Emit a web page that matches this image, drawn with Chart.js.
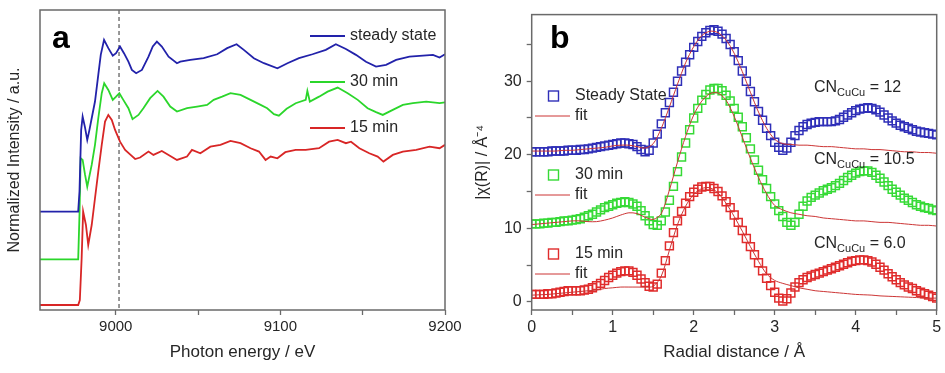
<!DOCTYPE html>
<html>
<head>
<meta charset="utf-8">
<script src="https://cdn.jsdelivr.net/npm/chart.js@4.4.0/dist/chart.umd.min.js"></script>
<style>
  html, body { margin: 0; padding: 0; background: #fff; }
  #wrap { position: relative; width: 945px; height: 373px; }
  canvas { position: absolute; top: 0; }
  #chartA { left: 0; }
  #chartB { left: 470px; }
</style>
</head>
<body>
<div id="wrap">
  <canvas id="chartA" width="470" height="373"></canvas>
  <canvas id="chartB" width="475" height="373"></canvas>
</div>
<script>
// ---- panel a : XANES, stacked as plotted (red baseline = 0, edge jump ~ 1)
const E_STEADY = [8954, 8977.2, 8978.0, 8979.0, 8979.9, 8981.3, 8982.7, 8984.0, 8985.4, 8987.4, 8989.4, 8990.9, 8992.9, 8995.5, 8998.2, 9000.2, 9002.6, 9005.0, 9007.7, 9009.8, 9012.4, 9015.9, 9019.9, 9022.5, 9025.0, 9028.0, 9032.1, 9037.2, 9039.2, 9045.3, 9053.4, 9061.6, 9067.7, 9073.4, 9077.8, 9083.9, 9090.0, 9098.2, 9104.3, 9111.3, 9119.5, 9127.6, 9133.7, 9139.8, 9145.9, 9152.0, 9158.1, 9164.2, 9170.3, 9178.4, 9186.6, 9192.7, 9196.7, 9200];
const MU_STEADY = [0.614, 0.614, 0.75, 1.15, 1.239, 1.17, 1.086, 1.15, 1.228, 1.338, 1.513, 1.645, 1.743, 1.689, 1.64, 1.656, 1.70, 1.656, 1.60, 1.546, 1.524, 1.546, 1.633, 1.70, 1.732, 1.70, 1.633, 1.59, 1.60, 1.612, 1.623, 1.649, 1.689, 1.715, 1.678, 1.623, 1.59, 1.557, 1.59, 1.623, 1.649, 1.678, 1.715, 1.684, 1.645, 1.60, 1.568, 1.579, 1.612, 1.633, 1.64, 1.645, 1.627, 1.649];

const E_30 = [8954, 8977.2, 8978.0, 8978.7, 8979.9, 8981.3, 8982.7, 8985.4, 8987.4, 8989.4, 8991.5, 8993.0, 8995.5, 8998.2, 9000.2, 9002.2, 9004.6, 9007.7, 9010.2, 9013.8, 9016.8, 9020.9, 9025.4, 9029.0, 9033.1, 9037.2, 9043.3, 9049.4, 9055.5, 9059.5, 9064.6, 9069.7, 9075.8, 9081.9, 9088.0, 9092.0, 9096.1, 9099.1, 9103.8, 9109.3, 9115.4, 9116.4, 9117.9, 9123.5, 9128.7, 9134.8, 9140.9, 9147.0, 9153.0, 9158.1, 9162.2, 9168.3, 9174.4, 9180.5, 9188.6, 9196.7, 9200];
const MU_30 = [0.30, 0.30, 0.60, 0.965, 0.954, 0.86, 0.778, 0.921, 1.053, 1.228, 1.393, 1.458, 1.414, 1.349, 1.37, 1.393, 1.349, 1.294, 1.222, 1.25, 1.294, 1.36, 1.408, 1.37, 1.305, 1.272, 1.294, 1.305, 1.316, 1.349, 1.37, 1.393, 1.382, 1.349, 1.316, 1.294, 1.255, 1.245, 1.29, 1.327, 1.349, 1.408, 1.338, 1.37, 1.403, 1.43, 1.393, 1.349, 1.294, 1.268, 1.25, 1.283, 1.316, 1.327, 1.338, 1.327, 1.333];

const E_15 = [8954, 8977.2, 8978.2, 8979.3, 8980.2, 8981.9, 8983.3, 8985.4, 8987.4, 8989.4, 8991.5, 8993.5, 8995.5, 8997.6, 8999.6, 9002.6, 9005.7, 9008.7, 9011.8, 9014.8, 9019.9, 9022.9, 9028.0, 9032.1, 9037.2, 9043.3, 9046.3, 9051.4, 9057.5, 9063.6, 9069.7, 9075.8, 9081.9, 9087.0, 9091.0, 9094.1, 9098.2, 9103.0, 9109.3, 9115.4, 9123.5, 9129.6, 9134.8, 9139.8, 9142.9, 9148.0, 9154.0, 9159.1, 9162.6, 9168.3, 9174.4, 9182.5, 9190.6, 9196.7, 9200];
const MU_15 = [0.0, 0.0, 0.033, 0.307, 0.614, 0.526, 0.395, 0.526, 0.702, 0.877, 1.053, 1.206, 1.25, 1.217, 1.151, 1.074, 1.02, 0.99, 0.96, 0.97, 1.009, 0.987, 1.013, 0.987, 0.954, 0.976, 1.02, 0.998, 1.041, 1.053, 1.079, 1.064, 1.031, 1.009, 0.954, 0.976, 0.965, 1.005, 1.02, 1.02, 1.031, 1.074, 1.086, 1.064, 1.074, 1.031, 0.998, 0.976, 0.943, 0.987, 1.009, 1.02, 1.041, 1.031, 1.053];

const LABELS_A = ["steady state", "30 min", "15 min"];
const TICKS_A = [9000, 9050, 9100, 9150, 9200];
const EDGE_MARK = 9002;

// ---- panel b : Fourier transformed EXAFS
const R_DATA = [0, 0.05, 0.1, 0.15, 0.2, 0.25, 0.3, 0.35, 0.4, 0.45, 0.5, 0.55, 0.6, 0.65, 0.7, 0.75, 0.8, 0.85, 0.9, 0.95,
  1, 1.05, 1.1, 1.15, 1.2, 1.25, 1.3, 1.35, 1.4, 1.45, 1.5, 1.55, 1.6, 1.65, 1.7, 1.75, 1.8, 1.85, 1.9, 1.95,
  2, 2.05, 2.1, 2.15, 2.2, 2.25, 2.3, 2.35, 2.4, 2.45, 2.5, 2.55, 2.6, 2.65, 2.7, 2.75, 2.8, 2.85, 2.9, 2.95,
  3, 3.05, 3.1, 3.15, 3.2, 3.25, 3.3, 3.35, 3.4, 3.45, 3.5, 3.55, 3.6, 3.65, 3.7, 3.75, 3.8, 3.85, 3.9, 3.95,
  4, 4.05, 4.1, 4.15, 4.2, 4.25, 4.3, 4.35, 4.4, 4.45, 4.5, 4.55, 4.6, 4.65, 4.7, 4.75, 4.8, 4.85, 4.9, 4.95, 5];

const CHI_STEADY = [20.4, 20.4, 20.4, 20.4, 20.4, 20.5, 20.5, 20.5, 20.5, 20.6, 20.6, 20.6, 20.7, 20.7, 20.8, 20.9, 21.0, 21.1, 21.2, 21.3,
  21.4, 21.5, 21.6, 21.6, 21.5, 21.4, 21.1, 20.7, 20.4, 20.6, 21.6, 22.8, 24.2, 25.7, 27.1, 28.5, 30.0, 31.4, 32.6, 33.6,
  34.6, 35.4, 36.1, 36.6, 36.9, 37.0, 36.8, 36.4, 35.8, 35.0, 34.0, 32.8, 31.4, 30.0, 28.6, 27.2, 25.9, 24.7, 23.6, 22.6,
  21.7, 21.0, 20.6, 20.9, 21.7, 22.6, 23.3, 23.8, 24.1, 24.3, 24.4, 24.5, 24.5, 24.5, 24.5, 24.6, 24.8, 25.1, 25.4, 25.7,
  26.0, 26.2, 26.3, 26.4, 26.3, 26.1, 25.8, 25.4, 25.0, 24.6, 24.3, 24.0, 23.8, 23.6, 23.4, 23.2, 23.1, 23.0, 22.9, 22.8, 22.7];

const CHI_30 = [10.6, 10.6, 10.6, 10.7, 10.7, 10.8, 10.8, 10.9, 11.0, 11.0, 11.1, 11.2, 11.3, 11.5, 11.7, 11.9, 12.2, 12.5, 12.8, 13.0,
  13.2, 13.4, 13.5, 13.6, 13.5, 13.3, 13.0, 12.4, 11.7, 11.0, 10.5, 10.4, 11.0, 12.2, 13.8, 15.7, 17.7, 19.7, 21.6, 23.4,
  25.0, 26.3, 27.4, 28.2, 28.8, 29.0, 29.0, 28.7, 28.1, 27.3, 26.3, 25.1, 23.8, 22.3, 20.8, 19.3, 17.9, 16.6, 15.4, 14.3,
  13.3, 12.4, 11.6, 10.8, 10.4, 10.8, 11.9, 13.0, 13.7, 14.2, 14.5, 14.8, 15.1, 15.3, 15.5, 15.8, 16.1, 16.5, 16.9, 17.2,
  17.5, 17.7, 17.8, 17.8, 17.6, 17.2, 16.8, 16.3, 15.8, 15.3, 14.9, 14.5, 14.1, 13.8, 13.5, 13.2, 13.0, 12.8, 12.7, 12.5, 12.4];

const CHI_15 = [1.0, 1.0, 1.0, 1.0, 1.1, 1.1, 1.2, 1.3, 1.4, 1.5, 1.5, 1.5, 1.5, 1.6, 1.7, 1.9, 2.2, 2.5, 2.9, 3.3,
  3.6, 3.9, 4.1, 4.2, 4.2, 4.0, 3.6, 3.1, 2.6, 2.1, 2.0, 2.4, 3.9, 5.6, 7.6, 9.4, 11.0, 12.3, 13.4, 14.3,
  14.9, 15.3, 15.6, 15.7, 15.7, 15.4, 15.0, 14.4, 13.6, 12.8, 11.8, 10.8, 9.7, 8.6, 7.5, 6.4, 5.3, 4.2, 3.2, 2.2,
  1.3, 0.5, 0.1, 0.4, 1.2, 2.0, 2.6, 3.0, 3.3, 3.5, 3.7, 3.9, 4.1, 4.3, 4.5, 4.7, 4.9, 5.1, 5.3, 5.5,
  5.6, 5.7, 5.7, 5.6, 5.4, 5.1, 4.7, 4.3, 3.8, 3.4, 3.0, 2.6, 2.3, 2.0, 1.8, 1.5, 1.3, 1.1, 0.9, 0.7, 0.5];

const R_FIT = [0, 0.1, 0.2, 0.3, 0.4, 0.5, 0.6, 0.7, 0.8, 0.9, 1, 1.1, 1.2, 1.3, 1.4, 1.5, 1.6, 1.7, 1.8, 1.9,
  2, 2.1, 2.2, 2.3, 2.4, 2.5, 2.6, 2.7, 2.8, 2.9, 3, 3.1, 3.2, 3.3, 3.4, 3.5, 3.6, 3.7, 3.8, 3.9,
  4, 4.1, 4.2, 4.3, 4.4, 4.5, 4.6, 4.7, 4.8, 4.9, 5];

const FIT_STEADY = [20.5, 20.5, 20.5, 20.5, 20.6, 20.6, 20.7, 20.8, 20.9, 21.0, 21.2, 21.3, 21.3, 21.1, 20.9, 21.5, 23.6, 26.5, 29.6, 32.5,
  34.7, 36.2, 36.8, 36.6, 35.6, 33.8, 31.3, 28.5, 25.8, 23.6, 22.1, 21.5, 21.4, 21.3, 21.3, 21.2, 21.1, 21.1, 21.0, 20.9,
  20.8, 20.8, 20.7, 20.7, 20.6, 20.5, 20.4, 20.4, 20.3, 20.3, 20.2];
const FIT_30 = [10.5, 10.6, 10.7, 10.8, 10.9, 11.0, 11.0, 10.9, 10.9, 11.1, 11.4, 11.8, 12.1, 12.0, 11.5, 11.2, 12.0, 15.2, 19.0, 22.5,
  25.4, 27.3, 28.3, 28.4, 27.4, 25.2, 22.4, 19.5, 16.9, 14.7, 13.1, 12.5, 12.1, 11.9, 11.7, 11.6, 11.4, 11.3, 11.2, 11.1,
  11.0, 11.0, 10.9, 10.8, 10.8, 10.7, 10.6, 10.5, 10.4, 10.4, 10.3];
const FIT_15 = [0.9, 0.95, 1.0, 1.1, 1.2, 1.3, 1.4, 1.5, 1.6, 1.8, 1.9, 2.0, 2.0, 2.0, 2.0, 2.1, 3.5, 7.0, 10.5, 13.0,
  14.6, 15.4, 15.5, 14.8, 13.4, 11.6, 9.6, 7.5, 5.5, 3.8, 2.9, 2.5, 2.2, 1.9, 1.7, 1.5, 1.4, 1.3, 1.2, 1.1,
  1.0, 0.95, 0.9, 0.8, 0.75, 0.7, 0.65, 0.6, 0.55, 0.5, 0.5];

const LABELS_B = ["Steady State", "30 min", "15 min"];
const CN_VALUES = ["12", "10.5", "6.0"];
const TICKS_BX = [0, 0.5, 1, 1.5, 2, 2.5, 3, 3.5, 4, 4.5, 5];
const TICKS_BY = [0, 5, 10, 15, 20, 25, 30, 35];

const COLORS = {
  axis:  "#6a6a6a",
  text:  "#262626",
  blue:  "#2222aa",
  green: "#2bd62b",
  red:   "#d82626",
  sqBlue:  "#2f2fb8",
  sqGreen: "#36da36",
  sqRed:   "#e02c2c",
  fit:   "#cc3535",
};
const FONT = "'Liberation Sans', Arial, sans-serif";

Chart.defaults.font.family = FONT;
Chart.defaults.color = COLORS.text;

const pts = (xs, ys) => xs.map((x, i) => ({ x, y: ys[i] }));

const frame = {
  id: "frame",
  afterDatasetsDraw(chart) {
    const { ctx, chartArea: a } = chart;
    ctx.save();
    ctx.strokeStyle = COLORS.axis;
    ctx.lineWidth = 1.5;
    ctx.strokeRect(a.left, a.top, a.right - a.left, a.bottom - a.top);
    ctx.restore();
  }
};

const decorA = {
  id: "decorA",
  beforeDatasetsDraw(chart) {
    const { ctx, chartArea: a } = chart;
    const x = chart.scales.x.getPixelForValue(EDGE_MARK);
    ctx.save();
    ctx.strokeStyle = "#333";
    ctx.lineWidth = 1;
    ctx.setLineDash([4, 3]);
    ctx.beginPath(); ctx.moveTo(x, a.top); ctx.lineTo(x, a.bottom); ctx.stroke();
    ctx.restore();
  },
  afterDraw(chart) {
    const ctx = chart.ctx;
    const cols = [COLORS.blue, COLORS.green, COLORS.red];
    ctx.save();
    ctx.font = "16px " + FONT;
    ctx.textBaseline = "middle";
    LABELS_A.forEach((label, i) => {
      const y = 36 + i * 46;
      ctx.strokeStyle = cols[i];
      ctx.lineWidth = 2;
      ctx.beginPath(); ctx.moveTo(310, y); ctx.lineTo(345, y); ctx.stroke();
      ctx.fillStyle = COLORS.text;
      ctx.fillText(label, 350, y);
    });
    ctx.font = "bold 32px " + FONT;
    ctx.textBaseline = "alphabetic";
    ctx.fillStyle = "#000";
    ctx.fillText("a", 52, 48);
    ctx.restore();
  }
};

const decorB = {
  id: "decorB",
  afterDraw(chart) {
    const ctx = chart.ctx;
    const cols = [COLORS.sqBlue, COLORS.sqGreen, COLORS.sqRed];
    ctx.save();
    ctx.font = "16px " + FONT;
    ctx.textBaseline = "middle";
    LABELS_B.forEach((label, i) => {
      const y = 96 + i * 79;
      ctx.strokeStyle = cols[i];
      ctx.lineWidth = 1.4;
      ctx.strokeRect(78.5, y - 5, 10, 10);
      ctx.fillStyle = COLORS.text;
      ctx.fillText(label, 105, y);
      ctx.strokeStyle = COLORS.fit;
      ctx.lineWidth = 1;
      ctx.beginPath(); ctx.moveTo(65, y + 20); ctx.lineTo(100, y + 20); ctx.stroke();
      ctx.fillText("fit", 105, y + 20);
    });
    // coordination numbers
    const cnY = [86, 158, 242];
    CN_VALUES.forEach((v, i) => {
      let x = 344;
      const y = cnY[i] + 6;
      ctx.textBaseline = "alphabetic";
      ctx.font = "16px " + FONT;
      ctx.fillText("CN", x, y);
      x += ctx.measureText("CN").width;
      ctx.font = "11px " + FONT;
      ctx.fillText("CuCu", x, y + 4);
      x += ctx.measureText("CuCu").width;
      ctx.font = "16px " + FONT;
      ctx.fillText(" = " + v, x, y);
    });
    ctx.font = "bold 32px " + FONT;
    ctx.fillStyle = "#000";
    ctx.fillText("b", 80, 48);
    ctx.restore();
  }
};

function axisTicks(len) {
  return { display: true, drawOnChartArea: false, drawTicks: true, tickLength: len, tickColor: COLORS.axis, tickWidth: 1.3 };
}

function renderXanes() {
  const series = [
    { e: E_STEADY, mu: MU_STEADY, c: COLORS.blue },
    { e: E_30, mu: MU_30, c: COLORS.green },
    { e: E_15, mu: MU_15, c: COLORS.red },
  ];
  new Chart(document.getElementById("chartA"), {
    type: "line",
    data: {
      datasets: series.map(s => ({
        data: pts(s.e, s.mu),
        borderColor: s.c,
        borderWidth: 1.8,
        pointRadius: 0,
        tension: 0,
      }))
    },
    options: {
      responsive: false,
      animation: false,
      layout: { padding: { top: 10, right: 25, left: 0, bottom: 0 } },
      plugins: { legend: { display: false }, tooltip: { enabled: false } },
      scales: {
        x: {
          type: "linear", min: 8954, max: 9200,
          afterBuildTicks: ax => { ax.ticks = TICKS_A.map(v => ({ value: v })); },
          afterFit: ax => { ax.height = 63; },
          ticks: { padding: 3, font: { size: 15 }, color: COLORS.text, maxRotation: 0,
                   callback: v => (v % 100 === 0 ? v : "") },
          grid: axisTicks(5),
          border: { display: false },
          title: { display: true, text: "Photon energy / eV", font: { size: 17 }, padding: { top: 0, bottom: 10 } },
        },
        y: {
          min: -0.033, max: 1.94,
          afterFit: ax => { ax.width = 40; },
          ticks: { display: false },
          grid: { display: false },
          border: { display: false },
          title: { display: true, text: "Normalized Intensity / a.u.", font: { size: 16 }, padding: { top: 5, bottom: 0 } },
        }
      }
    },
    plugins: [decorA, frame]
  });
}

function renderExafs() {
  const fits = [FIT_STEADY, FIT_30, FIT_15];
  const meas = [
    { v: CHI_STEADY, c: COLORS.sqBlue },
    { v: CHI_30, c: COLORS.sqGreen },
    { v: CHI_15, c: COLORS.sqRed },
  ];
  const datasets = [
    ...fits.map(f => ({
      data: pts(R_FIT, f),
      borderColor: COLORS.fit,
      borderWidth: 1,
      pointRadius: 0,
      tension: 0.3,
      order: 0,
    })),
    ...meas.map(m => ({
      data: pts(R_DATA, m.v),
      showLine: false,
      pointStyle: "rect",
      pointRadius: 5.6,
      pointBorderWidth: 1.5,
      pointBorderColor: m.c,
      pointBackgroundColor: "rgba(0,0,0,0)",
      order: 1,
    })),
  ];
  new Chart(document.getElementById("chartB"), {
    type: "line",
    data: { datasets },
    options: {
      responsive: false,
      animation: false,
      layout: { padding: { top: 11, right: 8.3, left: 0, bottom: 0 } },
      plugins: { legend: { display: false }, tooltip: { enabled: false } },
      scales: {
        x: {
          type: "linear", min: 0, max: 5,
          afterBuildTicks: ax => { ax.ticks = TICKS_BX.map(v => ({ value: v })); },
          afterFit: ax => { ax.height = 63; },
          ticks: { padding: 3, font: { size: 16 }, color: COLORS.text, maxRotation: 0,
                   callback: v => (Number.isInteger(v) ? v : "") },
          grid: axisTicks(5),
          border: { display: false },
          title: { display: true, text: "Radial distance / Å", font: { size: 17 }, padding: { top: 0, bottom: 10 } },
        },
        y: {
          min: -1.12, max: 39.06,
          afterBuildTicks: ax => { ax.ticks = TICKS_BY.map(v => ({ value: v })); },
          afterFit: ax => { ax.width = 61.7; },
          ticks: { padding: 5, font: { size: 16 }, color: COLORS.text,
                   callback: v => (v % 10 === 0 ? v : "") },
          grid: axisTicks(5),
          border: { display: false },
          title: { display: true, text: "|χ(R)| / Å⁻⁴", font: { size: 16 }, padding: { top: 3, bottom: 0 } },
        }
      }
    },
    plugins: [decorB, frame]
  });
}

renderXanes();
renderExafs();
</script>
</body>
</html>
